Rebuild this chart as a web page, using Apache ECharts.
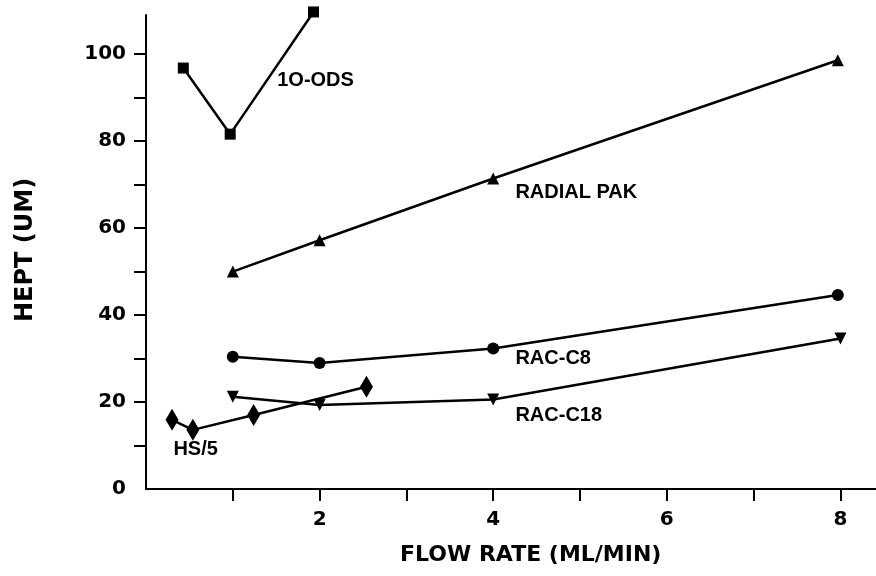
<!DOCTYPE html>
<html>
<head>
<meta charset="utf-8">
<script src="https://cdn.jsdelivr.net/npm/echarts@6/dist/echarts.min.js"></script>
<style>html,body{margin:0;padding:0;background:#fff}#c{width:876px;height:576px}</style>
</head>
<body>
<div id="c"></div>
<script>
// Data (flow rate ml/min, HEPT um)
const odsX = [0.43, 0.97, 1.93];
const odsY = [96.8, 81.6, 109.7];
const radialX = [1, 2, 4, 7.97];
const radialY = [50.0, 57.2, 71.4, 98.6];
const c8X = [1, 2, 4, 7.97];
const c8Y = [30.4, 29.0, 32.3, 44.6];
const c18X = [1, 2, 4, 8.0];
const c18Y = [21.2, 19.3, 20.6, 34.6];
const hsX = [0.3, 0.54, 1.24, 2.54];
const hsY = [15.9, 13.6, 17.0, 23.5];

const xTicks = [1, 2, 3, 4, 5, 6, 7, 8];
const xTickLabels = [2, 4, 6, 8];
const yTicks = [10, 20, 30, 40, 50, 60, 70, 80, 90, 100];
const yTickLabels = [0, 20, 40, 60, 80, 100];

// series label names and their anchor positions (data units)
const labelNames = ['1O-ODS', 'RADIAL PAK', 'RAC-C8', 'RAC-C18', 'HS/5'];
const labelX = [1.506, 4.25, 4.25, 4.25, 0.31];
const labelY = [94.0, 68.3, 29.9, 17.0, 9.0];

const zip = (xs, ys) => xs.map((x, i) => [x, ys[i]]);
const FONT = 'DejaVu Sans';

function mk(i) {
  return {
    symbol: 'circle', symbolSize: 1, silent: true,
    itemStyle: { color: 'rgba(0,0,0,0)' },
    label: {
      show: true, position: 'right', distance: 0,
      formatter: labelNames[i], color: '#000',
      fontFamily: 'Liberation Sans', fontSize: 20, fontWeight: 'bold'
    },
    data: [{ coord: [labelX[i], labelY[i]] }]
  };
}

function line(name, xs, ys, symbol, size, rotate, i) {
  return {
    name: name, type: 'line', data: zip(xs, ys), clip: false,
    symbol: symbol, symbolSize: size, symbolRotate: rotate || 0,
    showSymbol: true,
    lineStyle: { color: '#000', width: 2.5 },
    itemStyle: { color: '#000' },
    markPoint: mk(i),
    animation: false
  };
}

const chart = echarts.init(document.getElementById('c'), null, { renderer: 'canvas' });
chart.setOption({
  backgroundColor: '#fff',
  animation: false,
  grid: { left: 146, right: 0, top: 15, bottom: 87 },
  xAxis: {
    type: 'value', min: 0, max: 8.41,
    splitLine: { show: false },
    axisLine: { lineStyle: { color: '#000', width: 2 } },
    axisTick: { show: true, length: 12, inside: false, lineStyle: { color: '#000', width: 2 }, customValues: xTicks },
    axisLabel: { customValues: xTickLabels, color: '#000', fontFamily: FONT, fontWeight: 'bold', fontSize: 20, margin: 21 }
  },
  yAxis: {
    type: 'value', min: 0, max: 109,
    splitLine: { show: false },
    axisLine: { lineStyle: { color: '#000', width: 2 } },
    axisTick: { show: true, length: 12, inside: false, lineStyle: { color: '#000', width: 2 }, customValues: yTicks },
    axisLabel: { customValues: yTickLabels, color: '#000', fontFamily: FONT, fontWeight: 'bold', fontSize: 20, margin: 20 }
  },
  graphic: [
    { type: 'text', left: 400, top: 544, style: { text: 'FLOW RATE (ML/MIN)', font: 'bold 22px "DejaVu Sans"', fill: '#000' } },
    { type: 'text', x: 14, y: 322, rotation: Math.PI / 2, style: { text: 'HEPT (UM)', font: 'bold 24px "DejaVu Sans"', fill: '#000', verticalAlign: 'top' } }
  ],
  series: [
    line('10-ODS', odsX, odsY, 'rect', 11, 0, 0),
    line('RADIAL PAK', radialX, radialY, 'triangle', 12, 0, 1),
    line('RAC-C8', c8X, c8Y, 'circle', 12, 0, 2),
    line('RAC-C18', c18X, c18Y, 'triangle', 12, 180, 3),
    line('HS/5', hsX, hsY, 'diamond', [13, 22], 0, 4)
  ]
});
</script>
</body>
</html>
